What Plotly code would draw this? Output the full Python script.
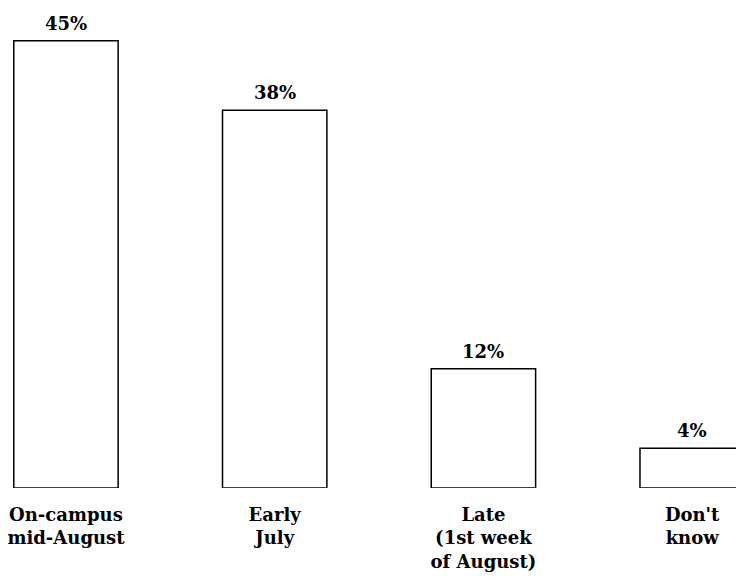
import plotly.graph_objects as go

categories = ["On-campus<br>mid-August", "Early<br>July", "Late<br>(1st week<br>of August)", "Don't<br>know"]
values = [45, 38, 12, 4]
value_labels = ["45%", "38%", "12%", "4%"]

FONT = "DejaVu Serif"
positions = list(range(len(categories)))

fig = go.Figure(go.Bar(
    x=positions,
    y=values,
    width=0.5,
    marker=dict(color="white", line=dict(color="black", width=1.5)),
    cliponaxis=False,
))

# value labels above each bar
for pos, val, lab in zip(positions, values, value_labels):
    fig.add_annotation(
        x=pos, y=val, text=f"<b>{lab}</b>", showarrow=False,
        yanchor="bottom", yshift=5,
        font=dict(family=FONT, size=18, color="black"),
    )

fig.update_layout(
    width=736,
    height=580,
    margin=dict(l=0, r=0, t=0, b=92),
    plot_bgcolor="white",
    paper_bgcolor="white",
    showlegend=False,
    font=dict(family=FONT, size=18, color="black"),
    xaxis=dict(
        range=[-0.316, 3.21],
        tickvals=positions,
        ticktext=[f"<b>{c}</b>" for c in categories],
        showgrid=False,
        zeroline=False,
        showline=False,
        ticks="",
        ticklabelstandoff=14,
    ),
    yaxis=dict(range=[0, 49.1], visible=False),
)

# drop the default page margin so the figure fills the window
fig.write_html(
    "out.html",
    config={"displayModeBar": False},
    post_script="document.body.style.margin='0';document.body.style.overflow='hidden';",
)
